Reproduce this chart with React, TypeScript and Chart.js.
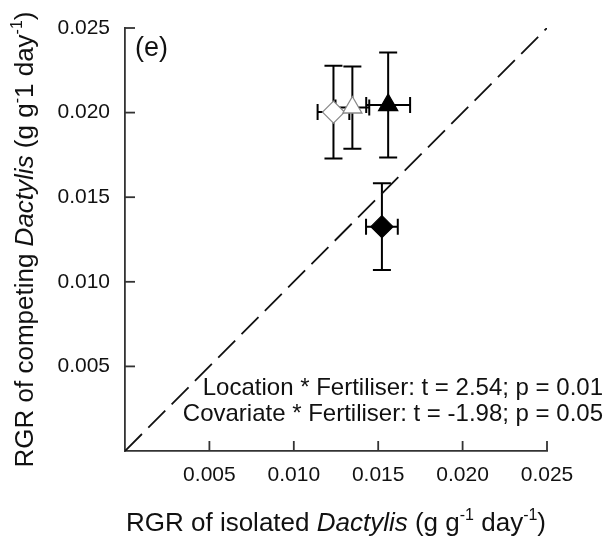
import React, { useEffect, useRef } from 'react';
import { Chart, registerables } from 'chart.js';
Chart.register(...registerables);

// ---- data ----
const tickValues = [0.005, 0.01, 0.015, 0.02, 0.025];
const seriesNames = ['Open diamond', 'Open triangle', 'Filled triangle', 'Filled diamond'];
const xValues = [0.01235, 0.01347, 0.01559, 0.01522];
const yValues = [0.02003, 0.0203, 0.02045, 0.01326];
const xErrors = [0.00094, 0.001, 0.0013, 0.00094];
const yErrors = [0.00274, 0.00243, 0.0031, 0.00256];
const pointStyles = ['rectRot', 'triangle', 'triangle', 'rectRot'];
const pointFills = ['#ffffff', '#ffffff', '#000000', '#000000'];
const pointBorders = ['#8a8a8a', '#8a8a8a', '#000000', '#000000'];
const identityLine = [0, 0.025];
const panelLabel = '(e)';
const annotations = [
  'Location * Fertiliser: t = 2.54; p = 0.01',
  'Covariate * Fertiliser: t = -1.98; p = 0.05',
];

const FONT = '"Liberation Sans", Arial, Helvetica, sans-serif';

type Seg = { t: string; it?: boolean; sup?: boolean };
const xTitle: Seg[] = [
  { t: 'RGR of isolated ' },
  { t: 'Dactylis', it: true },
  { t: ' (g g' },
  { t: '-1', sup: true },
  { t: ' day' },
  { t: '-1', sup: true },
  { t: ')' },
];
const yTitle: Seg[] = [
  { t: 'RGR of competing ' },
  { t: 'Dactylis', it: true },
  { t: ' (g g' },
  { t: '-', sup: true },
  { t: '1 day' },
  { t: '-1', sup: true },
  { t: ')' },
];

function segFont(s: Seg, size: number) {
  const sz = s.sup ? Math.round(size * 0.6) : size;
  return `${s.it ? 'italic ' : ''}${sz}px ${FONT}`;
}
function richWidth(ctx: CanvasRenderingContext2D, segs: Seg[], size: number) {
  let w = 0;
  for (const s of segs) {
    ctx.font = segFont(s, size);
    w += ctx.measureText(s.t).width;
  }
  return w;
}
function drawRich(ctx: CanvasRenderingContext2D, segs: Seg[], size: number, cx: number, baseY: number) {
  const w = richWidth(ctx, segs, size);
  let x = cx - w / 2;
  ctx.textAlign = 'left';
  ctx.textBaseline = 'alphabetic';
  for (const s of segs) {
    ctx.font = segFont(s, size);
    ctx.fillText(s.t, x, s.sup ? baseY - size * 0.42 : baseY);
    x += ctx.measureText(s.t).width;
  }
}

const errorBarPlugin = {
  id: 'errorBars',
  beforeDatasetsDraw(chart: any) {
    const { ctx } = chart;
    const xs = chart.scales.x;
    const ys = chart.scales.y;
    ctx.save();
    ctx.strokeStyle = '#000';
    ctx.lineWidth = 2;
    const capV = 9;
    const capH = 8;
    for (let i = 0; i < xValues.length; i++) {
      const px = xs.getPixelForValue(xValues[i]);
      const py = ys.getPixelForValue(yValues[i]);
      const yt = ys.getPixelForValue(yValues[i] + yErrors[i]);
      const yb = ys.getPixelForValue(yValues[i] - yErrors[i]);
      const xl = xs.getPixelForValue(xValues[i] - xErrors[i]);
      const xr = xs.getPixelForValue(xValues[i] + xErrors[i]);
      ctx.beginPath();
      ctx.moveTo(px, yt); ctx.lineTo(px, yb);
      ctx.moveTo(px - capV, yt); ctx.lineTo(px + capV, yt);
      ctx.moveTo(px - capV, yb); ctx.lineTo(px + capV, yb);
      ctx.moveTo(xl, py); ctx.lineTo(xr, py);
      ctx.moveTo(xl, py - capH); ctx.lineTo(xl, py + capH);
      ctx.moveTo(xr, py - capH); ctx.lineTo(xr, py + capH);
      ctx.stroke();
    }
    ctx.restore();
  },
};

const decorPlugin = {
  id: 'decor',
  afterDraw(chart: any) {
    const { ctx, chartArea } = chart;
    const xs = chart.scales.x;
    const ys = chart.scales.y;
    ctx.save();
    // inward tick marks, placed through the scales
    ctx.strokeStyle = '#333333';
    ctx.lineWidth = 1.8;
    for (let k = 0; k < tickValues.length; k++) {
      const tx = xs.getPixelForValue(tickValues[k]);
      const ty = ys.getPixelForValue(tickValues[k]);
      ctx.beginPath();
      ctx.moveTo(tx, chartArea.bottom);
      ctx.lineTo(tx, chartArea.bottom - 10);
      ctx.stroke();
      ctx.beginPath();
      ctx.moveTo(chartArea.left, ty);
      ctx.lineTo(chartArea.left + 10, ty);
      ctx.stroke();
    }

    ctx.fillStyle = '#111';
    ctx.font = `27px ${FONT}`;
    ctx.textAlign = 'left';
    ctx.textBaseline = 'alphabetic';
    ctx.fillText(panelLabel, chartArea.left + 10, 56);
    ctx.font = `24px ${FONT}`;
    ctx.textAlign = 'right';
    ctx.fillText(annotations[0], 603, 395);
    ctx.fillText(annotations[1], 603, 421);
    const cx = (chartArea.left + chartArea.right) / 2;
    drawRich(ctx, xTitle, 26, cx, 531);
    const cy = (chartArea.top + chartArea.bottom) / 2;
    ctx.translate(33, cy);
    ctx.rotate(-Math.PI / 2);
    drawRich(ctx, yTitle, 26, 0, 0);
    ctx.restore();
  },
};

export default function App() {
  const ref = useRef<HTMLCanvasElement | null>(null);
  useEffect(() => {
    document.body.style.margin = '0';
    const canvas = ref.current;
    if (!canvas) return;
    const tickCb = (v: any) => {
      const n = Number(v);
      const hit = tickValues.find((t) => Math.abs(t - n) < 1e-9);
      return hit !== undefined ? hit.toFixed(3) : '';
    };
    const chart = new Chart(canvas, {
      type: 'scatter',
      data: {
        datasets: [
          {
            type: 'line',
            label: '1:1',
            data: identityLine.map((v) => ({ x: v, y: v })),
            borderColor: '#111',
            borderWidth: 1.8,
            borderDash: [24, 9],
            pointRadius: 0,
            fill: false,
          } as any,
          {
            label: 'Treatments',
            data: xValues.map((x, i) => ({ x, y: yValues[i] })),
            pointStyle: pointStyles as any,
            pointRadius: 11,
            pointBackgroundColor: pointFills,
            pointBorderColor: pointBorders,
            pointBorderWidth: 1.3,
          },
        ],
      },
      options: {
        responsive: false,
        animation: false,
        devicePixelRatio: 1,
        layout: { padding: { top: 28, right: 63, left: 0, bottom: 0 } },
        plugins: { legend: { display: false }, tooltip: { enabled: false } },
        scales: {
          x: {
            type: 'linear',
            min: 0,
            max: 0.025,
            afterFit: (s: any) => { s.height = 88; },
            ticks: { stepSize: 0.005, callback: tickCb, font: { size: 21, family: FONT }, color: '#111', padding: 12, maxRotation: 0 },
            grid: { display: false, drawTicks: false },
            border: { display: true, color: '#333', width: 1.8 },
          },
          y: {
            type: 'linear',
            min: 0,
            max: 0.025,
            afterFit: (s: any) => { s.width = 125; },
            ticks: { stepSize: 0.005, callback: tickCb, font: { size: 21, family: FONT }, color: '#111', padding: 15 },
            grid: { display: false, drawTicks: false },
            border: { display: true, color: '#333', width: 1.8 },
          },
        },
      },
      plugins: [errorBarPlugin, decorPlugin],
    });
    return () => chart.destroy();
  }, []);
  return (
    <div style={{ position: 'absolute', left: 0, top: 0, width: 610, height: 539, background: '#fff' }}>
      <canvas ref={ref} width={610} height={539} />
    </div>
  );
}
